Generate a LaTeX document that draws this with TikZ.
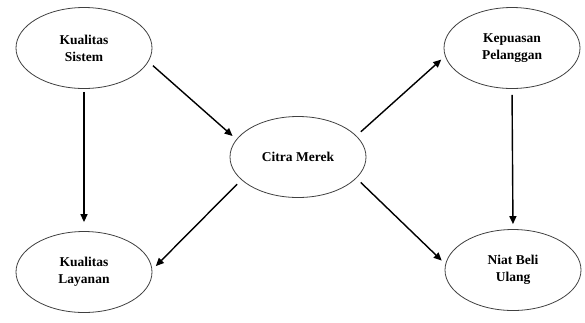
\documentclass[tikz,border=0pt]{standalone}
\usepackage{fontspec}
\setmainfont{Liberation Serif}
\usetikzlibrary{arrows.meta,shapes.geometric}

\begin{document}
\begin{tikzpicture}[x=1pt, y=-1pt, >={Triangle[length=8pt,width=7pt]},
  every node/.style={font=\bfseries\fontsize{13.5}{17}\selectfont, align=center},
  var/.style={draw=black!75, line width=0.8pt, ellipse, minimum width=136pt, minimum height=81pt, inner sep=0pt},
  link/.style={->, line width=1.4pt, shorten <=6pt, shorten >=5pt}]
  \useasboundingbox (0,0) rectangle (585,322);
  \node[var] (ks) at (84,48) {Kualitas\\Sistem};
  \node[var] (kl) at (84,272) {Kualitas\\Layanan};
  \node[var] (cm) at (298,157) {Citra Merek};
  \node[var] (kp) at (512,48) {Kepuasan\\Pelanggan};
  \node[var] (nb) at (513,270) {Niat Beli\\Ulang};
  \draw[link] (ks.-12) -- (cm.164);
  \draw[link, shorten <=3pt, shorten >=9pt] (ks.south) -- (kl.north);
  \draw[link] (cm.20) -- (kp.-173);
  \draw[link] (cm.202) -- (kl.2);
  \draw[link] (cm.-20) -- (nb.175);
  \draw[link, shorten <=6pt, shorten >=5pt] (kp.south) -- (nb.north);
\end{tikzpicture}
\end{document}
